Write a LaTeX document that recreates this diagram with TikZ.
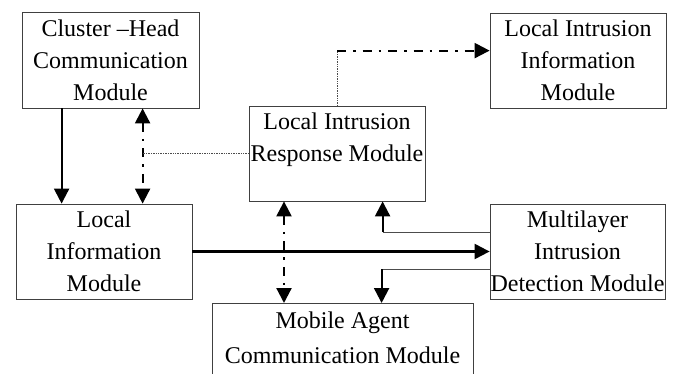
\documentclass[tikz,border=0pt]{standalone}
\usepackage{fontspec}
\setmainfont{Liberation Serif}
\usetikzlibrary{arrows.meta,calc}
\begin{document}
\begin{tikzpicture}[x=1pt,y=-1pt,
  box/.style={draw=black!75, line width=0.8pt, rectangle, align=center, inner sep=0pt, font=\fontsize{24}{32}\selectfont},
  tip/.style={},
  solidarrow/.style={line width=2.2pt, -{Triangle[length=15pt,width=15pt]}},
  ddarrow/.style={line width=2.2pt, dash pattern=on 9pt off 7pt on 2.5pt off 7pt, {Triangle[length=15pt,width=15pt]}-{Triangle[length=15pt,width=15pt]}},
  dasharrow/.style={line width=2.2pt, dash pattern=on 9pt off 7pt on 2.5pt off 7pt, -{Triangle[length=15pt,width=15pt]}},
  thinline/.style={draw=black!70, line width=0.8pt},
  dotline/.style={draw=black!70, line width=0.7pt, densely dotted}]
\useasboundingbox (0,0) rectangle (678,373);

\node[box, minimum width=177pt, minimum height=96pt] (ch) at (110.5,60) {Cluster –Head\\Communication\\Module};
\node[box, minimum width=176pt, minimum height=95pt] (lii) at (578,60.5) {Local Intrusion\\Information\\Module};
\node[box, minimum width=176pt, minimum height=95pt] (lir) at (337,153.5) {Local Intrusion\\Response Module\\\mbox{}};
\node[box, minimum width=176pt, minimum height=95pt] (li) at (104,251.5) {Local\\Information\\Module};
\node[box, minimum width=175pt, minimum height=95pt] (mid) at (577.5,251.5) {Multilayer\\Intrusion\\Detection Module};
\node[box, minimum width=261pt, minimum height=110pt, anchor=north,
  label={[anchor=north, yshift=-8.6pt, align=center, inner sep=0pt, font=\fontsize{24}{35}\selectfont]north:Mobile Agent\\Communication Module}] (mob) at (342.5,303) {};

% thin connectors
\draw[dotline] (lir.north) -- ++(0,-55) coordinate (a3);
\draw[thinline] ($(mid.west)+(0,-19.5)$) -- ++(-107,0) coordinate (a6);
\draw[thinline] ($(mid.west)+(0,17.5)$) -- ++(-108,0) coordinate (a7);

% arrows
\draw[solidarrow] ($(ch.south west)+(40,0)$) coordinate (a1) -- (a1 |- li.north);
\draw[ddarrow] ($(ch.south west)+(121,0)$) coordinate (a2) -- (a2 |- li.north);
\draw[dotline] (lir.west) -- (lir.west -| a2);
\draw[dasharrow] (a3) -- (a3 -| lii.west);
\draw[ddarrow] ($(lir.south)+(-53,0)$) coordinate (a4) -- (a4 |- mob.north);
\draw[solidarrow] (li.east) -- (mid.west);
\draw[solidarrow] (a6) -- (a6 |- lir.south);
\draw[solidarrow] (a7) -- (a7 |- mob.north);
\end{tikzpicture}
\end{document}
